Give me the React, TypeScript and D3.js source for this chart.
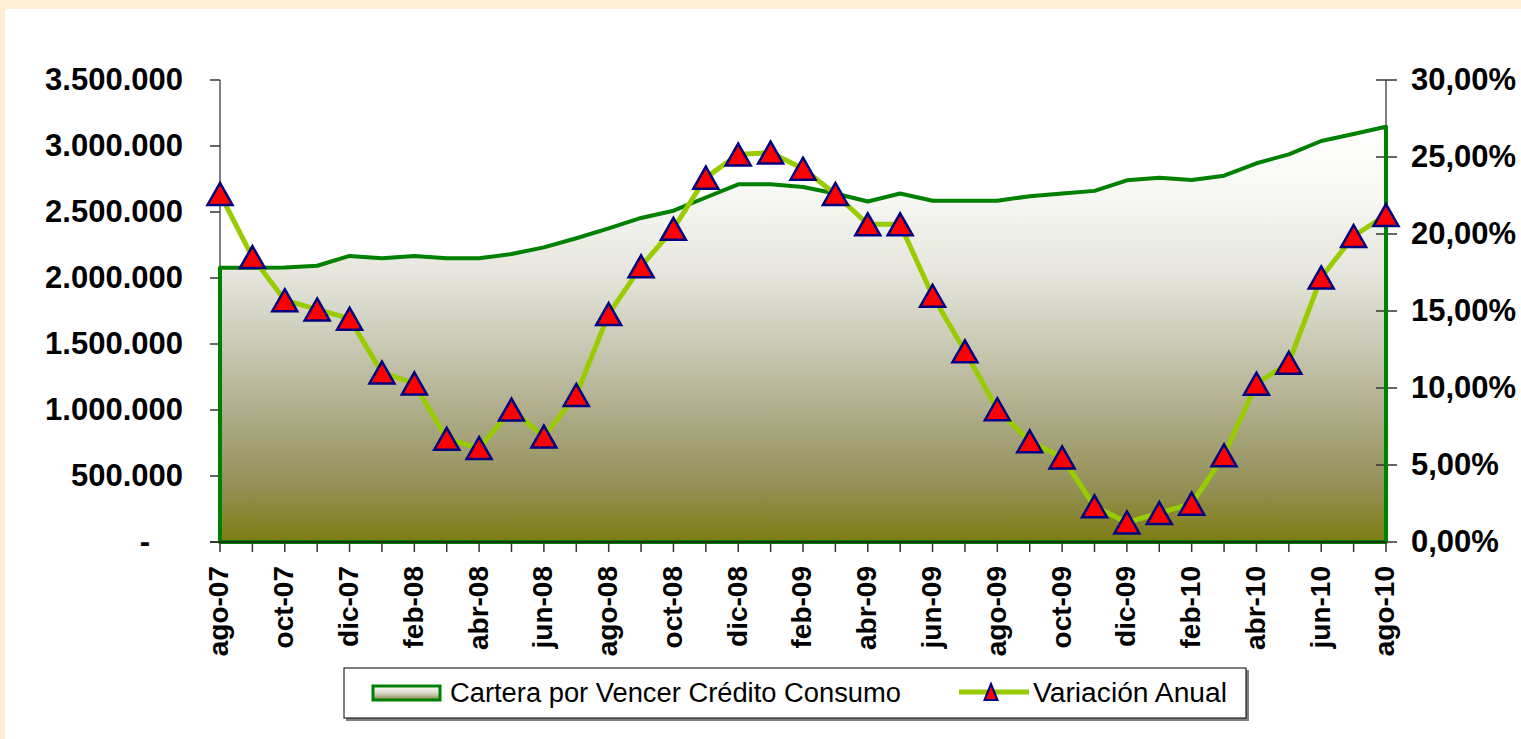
import React from "react";
import * as d3 from "d3";

// monthly categories, ago-07 .. ago-10
const months = [
  "ago-07", "sep-07", "oct-07", "nov-07", "dic-07", "ene-08", "feb-08", "mar-08", "abr-08",
  "may-08", "jun-08", "jul-08", "ago-08", "sep-08", "oct-08", "nov-08", "dic-08", "ene-09",
  "feb-09", "mar-09", "abr-09", "may-09", "jun-09", "jul-09", "ago-09", "sep-09", "oct-09",
  "nov-09", "dic-09", "ene-10", "feb-10", "mar-10", "abr-10", "may-10", "jun-10", "jul-10",
  "ago-10",
];

// Cartera por Vencer Crédito Consumo (left axis)
const cartera = [
  2078000, 2078000, 2080000, 2093000, 2167000, 2149000, 2167000, 2149000, 2149000,
  2182000, 2232000, 2301000, 2376000, 2455000, 2510000, 2610000, 2710000, 2710000,
  2690000, 2640000, 2580000, 2640000, 2585000, 2585000, 2585000, 2620000, 2640000,
  2660000, 2740000, 2760000, 2742000, 2775000, 2869000, 2937000, 3038000, 3091000,
  3146000,
];

// Variación Anual (right axis, fraction)
const variacion = [
  0.226, 0.185, 0.157, 0.151, 0.145, 0.110, 0.103, 0.067, 0.061,
  0.086, 0.0685, 0.0955, 0.148, 0.179, 0.2034, 0.2366, 0.2516, 0.2529,
  0.2424, 0.226, 0.2063, 0.2063, 0.1599, 0.1238, 0.0862, 0.0654, 0.0549,
  0.0232, 0.0127, 0.0188, 0.0249, 0.0563, 0.1028, 0.1164, 0.1718, 0.1987,
  0.2123,
];

const leftTicks = [0, 500000, 1000000, 1500000, 2000000, 2500000, 3000000, 3500000];
const rightTicks = [0, 0.05, 0.1, 0.15, 0.2, 0.25, 0.3];

const W = 1521;
const H = 739;
const FONT = "'Liberation Sans', Arial, sans-serif";

export default function App() {
  const x = d3.scalePoint<string>().domain(months).range([220, 1386]);
  const yL = d3.scaleLinear().domain([0, 3500000]).range([542, 80]);
  const yR = d3.scaleLinear().domain([0, 0.3]).range([542, 80]);

  const fmtL = (v: number) =>
    v === 0 ? "-" : d3.format(",")(v).replace(/,/g, ".");
  const fmtR = (v: number) => d3.format(".2f")(v * 100).replace(".", ",") + "%";

  const area = d3
    .area<number>()
    .x((_, i) => x(months[i]) as number)
    .y0(yL(0))
    .y1((d) => yL(d));
  const areaTop = d3
    .line<number>()
    .x((_, i) => x(months[i]) as number)
    .y((d) => yL(d));
  const varLine = d3
    .line<number>()
    .x((_, i) => x(months[i]) as number)
    .y((d) => yR(d));

  const tri = "M0,-11L12.5,11L-12.5,11Z";
  const x0 = x(months[0]) as number;
  const x1 = x(months[months.length - 1]) as number;

  return (
    <svg
      width={W}
      height={H}
      style={{ position: "absolute", left: 0, top: 0, fontFamily: FONT }}
    >
      <defs>
        <linearGradient id="areaGrad" gradientUnits="userSpaceOnUse" x1="0" y1="126" x2="0" y2="542">
          <stop offset="0" stopColor="#ffffff" />
          <stop offset="0.18" stopColor="#f6f6f2" />
          <stop offset="0.35" stopColor="#e6e6de" />
          <stop offset="0.52" stopColor="#cacab6" />
          <stop offset="0.71" stopColor="#aba984" />
          <stop offset="0.86" stopColor="#959159" />
          <stop offset="1" stopColor="#7d7d12" />
        </linearGradient>
        <linearGradient id="legGrad" x1="0" y1="0" x2="0" y2="1">
          <stop offset="0" stopColor="#ffffff" />
          <stop offset="0.5" stopColor="#d8d8cc" />
          <stop offset="1" stopColor="#8a8640" />
        </linearGradient>
      </defs>

      <rect x={0} y={0} width={W} height={H} fill="#ffefd5" />
      <rect x={5} y={9} width={W - 5} height={H - 9} fill="#ffffff" />

      {/* area series */}
      <path d={area(cartera) || ""} fill="url(#areaGrad)" />

      {/* axes */}
      <line x1={220} x2={220} y1={80} y2={542} stroke="#808080" strokeWidth={2} />
      <line x1={1386} x2={1386} y1={80} y2={542} stroke="#808080" strokeWidth={2} />
      {leftTicks.map((t) => (
        <g key={"l" + t}>
          <line x1={210} x2={220} y1={yL(t)} y2={yL(t)} stroke="#333" strokeWidth={1.5} />
          <text
            x={t === 0 ? 150 : 183}
            y={yL(t)}
            dy="0.32em"
            textAnchor="end"
            fontSize={31}
            fontWeight="bold"
            fill="#000"
          >
            {fmtL(t)}
          </text>
        </g>
      ))}
      {rightTicks.map((t) => (
        <g key={"r" + t}>
          <line x1={1376} x2={1397} y1={yR(t)} y2={yR(t)} stroke="#333" strokeWidth={1.5} />
          <text
            x={1411}
            y={yR(t)}
            dy="0.32em"
            textAnchor="start"
            fontSize={31}
            fontWeight="bold"
            fill="#000"
          >
            {fmtR(t)}
          </text>
        </g>
      ))}

      {/* area outline */}
      <path
        d={`M${x0},${yL(0)}L${x0},${yL(cartera[0])}` +
          (areaTop(cartera) || "").replace(/^M/, "L") +
          `L${x1},${yL(0)}Z`}
        fill="none"
        stroke="#008000"
        strokeWidth={4}
        strokeLinejoin="round"
      />

      <line x1={210} x2={1386} y1={542} y2={542} stroke="#222" strokeWidth={1.5} />
      {months.map((m, i) => (
        <g key={m}>
          <line
            x1={x(m) as number}
            x2={x(m) as number}
            y1={542}
            y2={552}
            stroke="#333"
            strokeWidth={1.5}
          />
          {i % 2 === 0 && (
            <text
              transform={`translate(${x(m)},566) rotate(-90)`}
              dy="0.3em"
              textAnchor="end"
              fontSize={28}
              fontWeight="bold"
              fill="#000"
            >
              {m}
            </text>
          )}
        </g>
      ))}

      {/* Variación Anual */}
      <path
        d={varLine(variacion) || ""}
        fill="none"
        stroke="#99cc00"
        strokeWidth={5}
        strokeLinejoin="round"
      />
      {variacion.map((v, i) => (
        <path
          key={"t" + i}
          d={tri}
          transform={`translate(${x(months[i])},${yR(v)})`}
          fill="#ff0000"
          stroke="#000080"
          strokeWidth={2.5}
          strokeLinejoin="miter"
        />
      ))}

      {/* legend */}
      <rect x={346} y={670} width={903} height={51} fill="#808080" />
      <rect x={344} y={668} width={902} height={50} fill="#ffffff" stroke="#000" strokeWidth={1} />
      <rect x={373} y={686} width={67} height={14} fill="url(#legGrad)" stroke="#008000" strokeWidth={3} />
      <text x={450} y={702} fontSize={27} fill="#000" textLength={451} lengthAdjust="spacingAndGlyphs">
        Cartera por Vencer Crédito Consumo
      </text>
      <line x1={959} x2={1029} y1={692} y2={692} stroke="#99cc00" strokeWidth={5} />
      <path
        d="M0,-8L6.5,8L-6.5,8Z"
        transform="translate(991,692)"
        fill="#ff0000"
        stroke="#000080"
        strokeWidth={2}
      />
      <text x={1033} y={702} fontSize={27} fill="#000" textLength={194} lengthAdjust="spacingAndGlyphs">
        Variación Anual
      </text>
    </svg>
  );
}
